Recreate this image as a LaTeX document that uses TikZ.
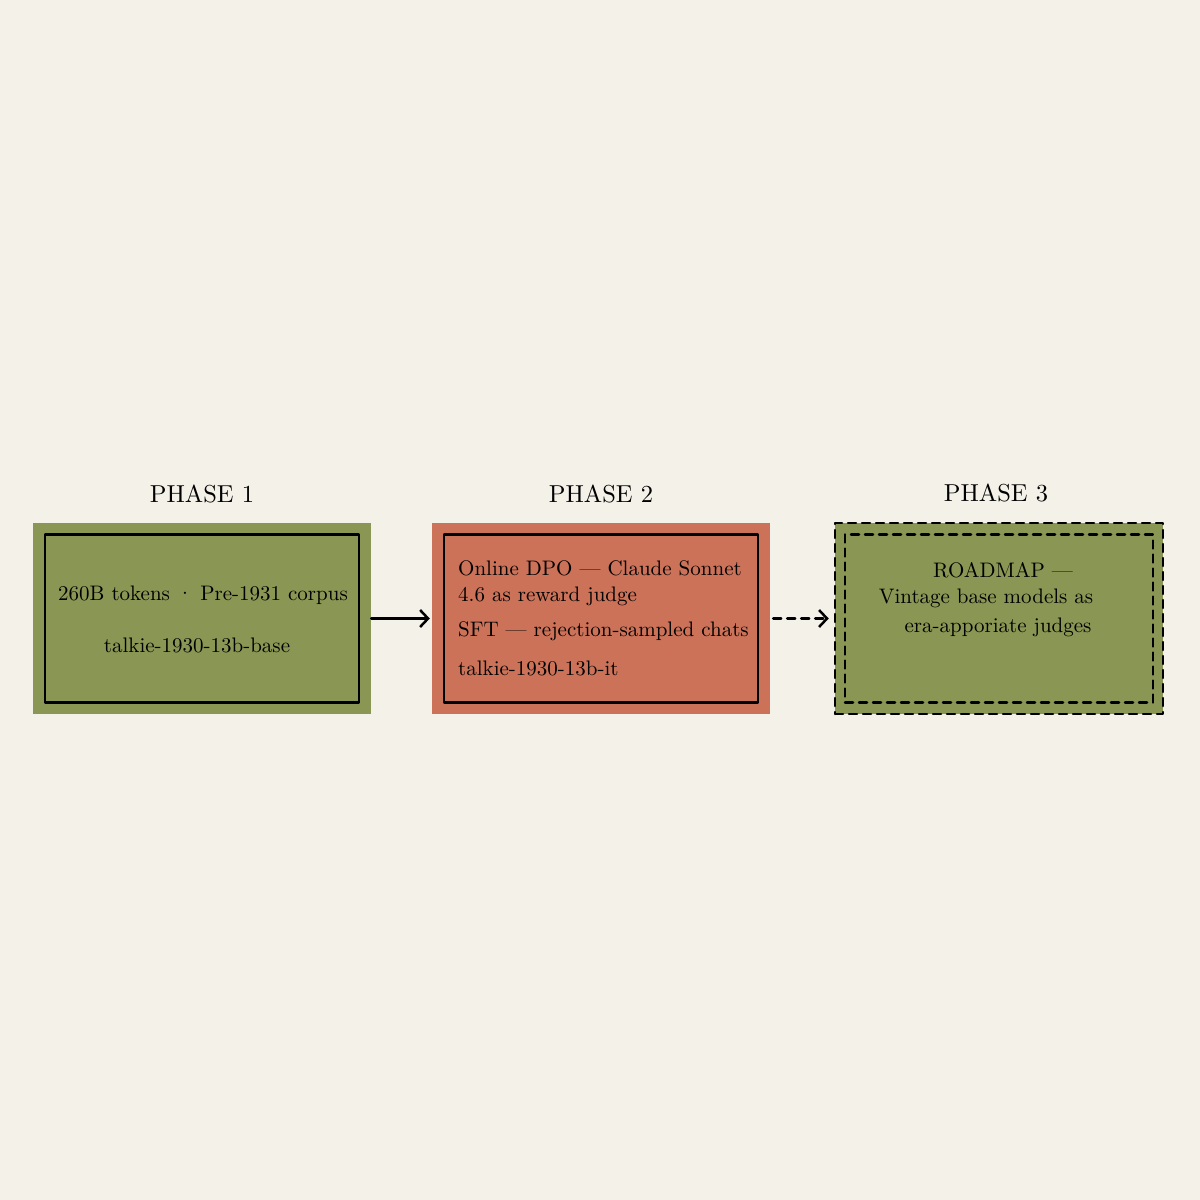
\documentclass[tikz,border=0pt]{standalone}
\usepackage{fontspec}
\setmainfont{lmroman10-regular}[Extension=.otf]
\usetikzlibrary{positioning,arrows.meta}
\definecolor{paper}{RGB}{244,241,232}
\definecolor{olivebox}{RGB}{138,150,84}
\definecolor{rustbox}{RGB}{203,114,89}
\begin{document}
\begin{tikzpicture}[x=1pt,y=-1pt,line cap=round,line join=round,
  >={Straight Barb[length=8pt,width=17pt,line width=2.5pt]},
  txt/.style={font=\fontsize{21}{25}\selectfont,inner sep=0pt},
  phaselbl/.style={font=\fontsize{24.5}{28}\selectfont,inner sep=0pt},
  outerbox/.style={minimum width=338pt,minimum height=191pt,inner sep=0pt},
  innerbox/.style={draw,line width=2.5pt,minimum width=314pt,minimum height=168pt,inner sep=0pt},
  dashbox/.style={draw,line width=2.5pt,dash pattern=on 8pt off 6pt}]
\useasboundingbox[fill=paper] (0,0) rectangle (1200,1200);
% phase boxes
\node[outerbox,fill=olivebox] (p1) at (202,618.5) {};
\node[innerbox] (i1) at (p1) {};
\node[outerbox,fill=rustbox] (p2) at (601,618.5) {};
\node[innerbox] (i2) at (p2) {};
\node[outerbox,dashbox,fill=olivebox,minimum width=328pt] (p3) at (999,618.5) {};
\node[innerbox,dashbox,minimum width=308pt] (i3) at (p3) {};
% headings
\node[phaselbl,above=20pt of p1] (h1) {PHASE 1};
\node[phaselbl,above=20pt of p2] (h2) {PHASE 2};
\node[phaselbl,above=20pt of p3,xshift=-3pt] (h3) {PHASE 3};
% texts
\node[txt] (t11) at (203,595) {260B tokens · Pre-1931 corpus};
\node[txt] (t12) at (197,645) {talkie-1930-13b-base};
\node[txt,anchor=west] (t21) at (458,568) {Online DPO — Claude Sonnet};
\node[txt,anchor=west] (t22) at (458,596) {4.6 as reward judge};
\node[txt,anchor=west] (t23) at (458,631) {SFT — rejection-sampled chats};
\node[txt,anchor=west] (t24) at (458,668) {talkie-1930-13b-it};
\node[txt] (t31) at (1003,570) {ROADMAP —};
\node[txt] (t32) at (986,598) {Vintage base models as};
\node[txt] (t33) at (998,627) {era-apporiate judges};
% arrows
\draw[->,line width=2.5pt,shorten >=2pt] (p1) -- (p2);
\draw[->,line width=2.5pt,dash pattern=on 8pt off 6pt,shorten <=3pt,shorten >=5pt] (p2) -- (p3);
\end{tikzpicture}
\end{document}
